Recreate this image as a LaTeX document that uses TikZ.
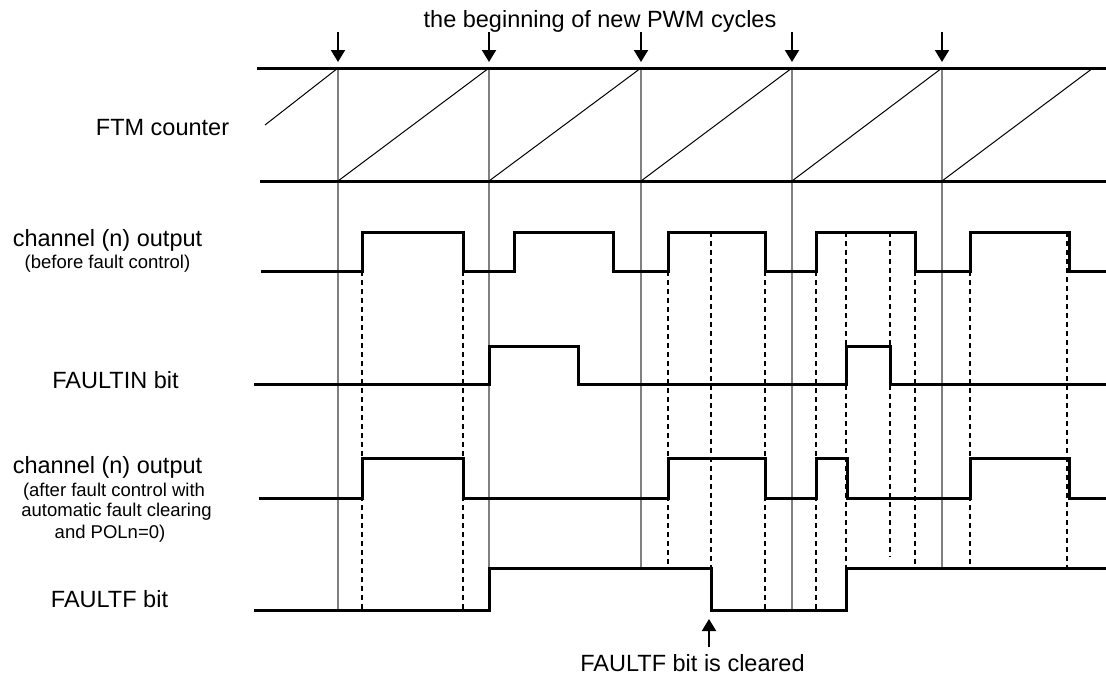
\documentclass[tikz,border=0pt]{standalone}
\usepackage{fontspec}
\setmainfont{Liberation Sans}
\usetikzlibrary{arrows.meta}
\tikzset{
  big/.style={font=\fontsize{23.5}{28}\selectfont, inner sep=0pt, anchor=base},
  small/.style={font=\fontsize{18.5}{22}\selectfont, inner sep=0pt, anchor=base},
  sig/.style={line width=3pt, line join=miter, line cap=butt},
  rail/.style={line width=3pt},
  ramp/.style={line width=1pt},
  grid/.style={line width=1.6pt, draw={rgb,255:red,128;green,128;blue,128}},
  dsh/.style={line width=1.4pt, dash pattern=on 5pt off 4pt},
  darrow/.style={line width=2pt, -{Triangle[length=12pt,width=14pt]}},
}
\begin{document}
\begin{tikzpicture}[x=1pt,y=-1pt]
\useasboundingbox (0,0) rectangle (1106,675);
% grey cycle lines
\draw[grid] (338,68) -- (338,610);
\draw[grid] (489,68) -- (489,568);
\draw[grid] (641,68) -- (641,568);
\draw[grid] (792,68) -- (792,610);
\draw[grid] (942,68) -- (942,568);
% dashed lines
\draw[dsh] (362,271) -- (362,610);
\draw[dsh] (463,271) -- (463,610);
\draw[dsh] (668,271) -- (668,568);
\draw[dsh] (711,232) -- (711,610);
\draw[dsh] (765,271) -- (765,610);
\draw[dsh] (816,271) -- (816,610);
\draw[dsh] (846,232) -- (846,568);
\draw[dsh] (890,232) -- (890,557);
\draw[dsh] (915,271) -- (915,568);
\draw[dsh] (970,271) -- (970,568);
\draw[dsh] (1067,232) -- (1067,568);
% FTM counter
\draw[rail] (257,68) -- (1106,68);
\draw[rail] (260,181) -- (1106,181);
\draw[ramp] (265,125) -- (338,68);
\draw[ramp] (338,181) -- (489,68);
\draw[ramp] (489,181) -- (641,68);
\draw[ramp] (641,181) -- (792,68);
\draw[ramp] (792,181) -- (942,68);
\draw[ramp] (942,181) -- (1093,68);
% channel before fault control
\draw[sig] (261,271) -- (362,271) -- (362,232) -- (463,232) -- (463,271) -- (514,271) -- (514,232) -- (613,232) -- (613,271) -- (668,271) -- (668,232) -- (765,232) -- (765,271) -- (816,271) -- (816,232) -- (915,232) -- (915,271) -- (970,271) -- (970,232) -- (1069,232) -- (1069,271) -- (1106,271);
% FAULTIN
\draw[sig] (254,384) -- (489,384) -- (489,346) -- (578,346) -- (578,384) -- (846,384) -- (846,346) -- (890,346) -- (890,384) -- (1106,384);
% channel after fault control
\draw[sig] (259,498) -- (362,498) -- (362,458) -- (463,458) -- (463,498) -- (668,498) -- (668,458) -- (765,458) -- (765,498) -- (816,498) -- (816,458) -- (847,458) -- (847,498) -- (970,498) -- (970,458) -- (1069,458) -- (1069,498) -- (1106,498);
% FAULTF
\draw[sig] (254,610) -- (489,610) -- (489,568) -- (711,568) -- (711,610) -- (846,610) -- (846,568) -- (1106,568);
% arrows
\draw[darrow] (338,32) -- (338,62);
\draw[darrow] (489,32) -- (489,62);
\draw[darrow] (641,32) -- (641,62);
\draw[darrow] (792,32) -- (792,62);
\draw[darrow] (942,32) -- (942,62);
\draw[darrow] (709,647) -- (709,619);
% labels
\node[big] (title) at (600,27) {the beginning of new PWM cycles};
\node[big] (ftm) at (162.5,135) {FTM counter};
\node[big] (ch1) at (107.5,246.7) {channel (n) output};
\node[small] (ch1b) at (107.5,268) {(before fault control)};
\node[big] (fin) at (115.5,388) {FAULTIN bit};
\node[big] (ch2) at (107.5,473) {channel (n) output};
\node[small] (ch2b) at (114,496) {(after fault control with};
\node[small] (ch2c) at (116.5,516) {automatic fault clearing};
\node[small] (ch2d) at (110,538) {and POLn=0)};
\node[big] (ff) at (109.5,607) {FAULTF bit};
\node[big] (clr) at (692.5,671) {FAULTF bit is cleared};
\end{tikzpicture}
\end{document}
